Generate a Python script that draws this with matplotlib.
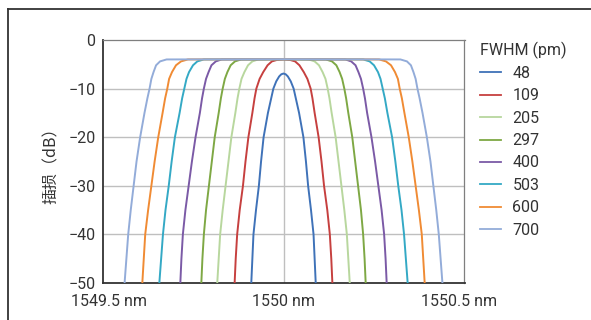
import numpy as np
import matplotlib
matplotlib.use("Agg")
import matplotlib.pyplot as plt
import matplotlib.transforms as mtransforms
from matplotlib.lines import Line2D

plt.rcParams["font.family"] = ["Roboto", "DejaVu Sans"]

# Filter passbands centred on 1550 nm: insertion loss (dB) vs half width (pm)
center_nm = 1550.0
fwhm_labels = ["48", "109", "205", "297", "400", "503", "600", "700"]
colors = ["#3F72B8", "#C6403F", "#B8D79E", "#7EA844",
          "#7B5AA6", "#34A9C5", "#F08B34", "#93ACD9"]

levels_48 = [-50, -45, -40, -35, -30, -25, -20, -15, -12, -10, -8.5, -7.5, -7.05, -6.9]
hw_48 = [89, 86, 83, 76, 68, 62, 55, 43, 34, 28, 20, 12, 6, 0]

levels_109 = [-50, -45, -40, -35, -30, -25, -20, -15, -12, -10, -8, -6.6, -5.2, -4.4, -4.1, -4.0]
hw_109 = [135, 132, 128, 121, 112, 105, 97, 86, 80, 75, 66, 56, 44, 32, 18, 0]

levels_flat = [-50, -45, -40, -35, -30, -25, -20, -15, -12, -10, -8, -6.6, -5.2, -4.4, -4.0, -3.95]
hw_205 = [183, 179, 175, 168, 160, 152, 144, 133, 127, 122, 116, 108, 98, 86, 70, 0]
hw_297 = [227, 224, 220, 214, 206, 198, 190, 179, 173, 168, 162, 155, 146, 134, 117, 0]
hw_400 = [285, 282, 278, 271, 262, 253, 243, 231, 225, 220, 214, 207, 199, 187, 171, 0]
hw_503 = [343, 338, 333, 326, 317, 309, 300, 287, 280, 274, 268, 261, 250, 238, 220, 0]
hw_600 = [390, 386, 382, 374, 365, 356, 346, 334, 327, 321, 316, 308, 297, 283, 264, 0]
hw_700 = [439, 434, 429, 422, 414, 406, 396, 384, 376, 370, 365, 359, 352, 341, 323, 0]

curves = [(levels_48, hw_48), (levels_109, hw_109),
          (levels_flat, hw_205), (levels_flat, hw_297),
          (levels_flat, hw_400), (levels_flat, hw_503),
          (levels_flat, hw_600), (levels_flat, hw_700)]

x_ticks = [1549.5, 1550.0, 1550.5]
x_ticklabels = ["1549.5 nm", "1550 nm", "1550.5 nm"]
y_ticks = [0, -10, -20, -30, -40, -50]

W, H = 591, 320
fig = plt.figure(figsize=(W / 100, H / 100), dpi=100)
ax = fig.add_axes([102.5 / W, 1 - 283 / H, 362 / W, 243 / H])

# outer frame (cropped at right and bottom)
fig.add_artist(Line2D([8 / W, 8 / W], [0, 1 - 9 / H], transform=fig.transFigure,
                      color="#333333", lw=1.3))
fig.add_artist(Line2D([8 / W, 1], [1 - 9 / H, 1 - 9 / H], transform=fig.transFigure,
                      color="#333333", lw=1.3))

handles = []
for (lev, hw), c in zip(curves, colors):
    lev = np.array(lev, dtype=float)
    hw = np.array(hw, dtype=float) / 1000.0
    x = np.concatenate([center_nm - hw, (center_nm + hw)[::-1][1:]])
    y = np.concatenate([lev, lev[::-1][1:]])
    ax.plot(x, y, color=c, lw=1.4, solid_joinstyle="round", zorder=3)
    handles.append(Line2D([], [], color=c, lw=1.3))

ax.set_xlim(1549.5, 1550.5)
ax.set_ylim(-50, 0)
ax.set_yticks(y_ticks)
ax.set_xticks(x_ticks)
ax.set_xticklabels(x_ticklabels)

ax.axvline(center_nm, color="#BFBFBF", lw=1, zorder=1)
for yv in [-10, -20, -30, -40]:
    ax.axhline(yv, color="#BFBFBF", lw=1, zorder=1)

for s in ["left", "bottom"]:
    ax.spines[s].set_color("#333333")
    ax.spines[s].set_linewidth(1.3)
for s in ["top", "right"]:
    ax.spines[s].set_color("#7F7F7F")
    ax.spines[s].set_linewidth(0.9)

ax.tick_params(length=0, labelsize=11.5, colors="#333333")
ax.tick_params(axis="y", pad=5)
ax.tick_params(axis="x", pad=8)

# nudge the end labels inward like the original
offsets = [6.5, 0, -5]
for lbl, dx in zip(ax.get_xticklabels(), offsets):
    lbl.set_transform(lbl.get_transform() +
                      mtransforms.ScaledTranslation(dx / 100, 0, fig.dpi_scale_trans))

ax.set_ylabel("插损（dB）", fontsize=11.5, color="#333333",
              family=["Noto Sans CJK SC", "DejaVu Sans"], labelpad=6)

leg = ax.legend(handles, fwhm_labels, title="FWHM (pm)", loc="upper left",
                bbox_to_anchor=(476 / W, 1 - 37 / H), bbox_transform=fig.transFigure,
                frameon=False, fontsize=11.5, title_fontsize=11.5, alignment="left",
                handlelength=1.3, handletextpad=0.7, labelspacing=0.46,
                borderpad=0.28, borderaxespad=0)
for t in leg.get_texts():
    t.set_color("#333333")
leg.get_title().set_color("#333333")

fig.savefig("out.png", dpi=100)
